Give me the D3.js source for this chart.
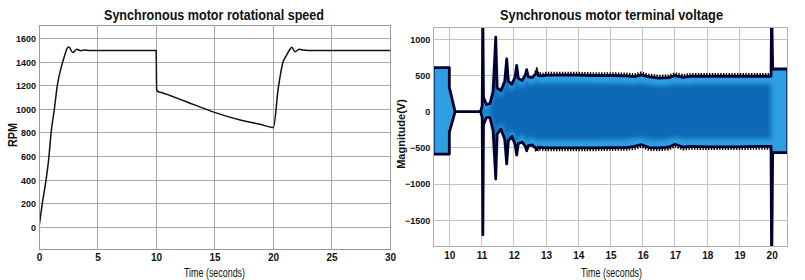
<!DOCTYPE html>
<html><head><meta charset="utf-8">
<script src="https://cdn.jsdelivr.net/npm/d3@7"></script>
<style>
html,body{margin:0;padding:0;background:#fff;}
svg{display:block;}
text{font-family:"Liberation Sans Narrow","Arial Narrow","Liberation Sans",Arial,sans-serif;fill:#111;}
</style></head><body>
<script>
// ---------- DATA ----------
// Left chart: synchronous motor rotational speed (RPM vs time)
const speedTime = [0,0.28,0.6,0.85,1.03,1.31,1.56,1.99,2.2,2.45,2.55,2.88,3.22,3.56,3.9,4.3,10.0,10.02,10.05,10.2,10.6,11.2,12.6,15.0,17.2,18.9,19.95,20.03,20.45,20.85,21.1,21.45,21.6,21.88,22.25,22.6,23.0,30.0];
const speedRPM  = [0,200,400,600,800,1000,1200,1390,1460,1525,1530,1482,1510,1498,1505,1500,1500,1500,1170,1150,1140,1118,1065,975,910,874,846,845,1180,1400,1450,1510,1527,1490,1510,1503,1500,1500];
const speedXTicks = [0,5,10,15,20,25,30];
const speedYTicks = [0,200,400,600,800,1000,1200,1400,1600];

// Right chart: synchronous motor terminal voltage (envelope of waveform)
const voltTime  = [9.5,10.0,10.0,10.18,10.97,11.02,11.04,11.06,11.15,11.26,11.36,11.44,11.48,11.6,11.72,11.78,11.83,11.94,12.04,12.09,12.14,12.26,12.36,12.40,12.45,12.57,12.67,12.71,12.76,12.9,13.0,13.5,14.0,14.5,15.0,15.5,15.75,15.95,16.2,16.5,16.8,17.0,17.25,17.5,18.0,18.5,19.0,19.5,19.98,19.995,20.005,20.03,20.5];
const voltUpper = [610,610,337,0,0,80,1300,200,100,110,280,1030,330,290,420,730,420,380,480,640,460,430,510,580,480,470,520,555,500,495,505,505,505,500,500,495,485,510,480,465,470,500,475,490,490,490,490,490,490,1300,1300,590,590];
const voltLower = [-585,-585,-285,0,0,-80,-1700,-180,-80,-80,-260,-930,-310,-240,-380,-720,-400,-340,-450,-600,-440,-420,-480,-540,-470,-460,-500,-520,-490,-495,-500,-500,-500,-500,-495,-495,-480,-455,-495,-500,-490,-450,-490,-480,-485,-485,-485,-480,-480,-1900,-1900,-565,-565];
const voltXTicks = [10,11,12,13,14,15,16,17,18,19,20];
const voltYTicks = [-1500,-1000,-500,0,500,1000];

const titles = ["Synchronous motor rotational speed","Synchronous motor terminal voltage"];
const xLabel = "Time (seconds)";
const yLabels = ["RPM","Magnitude(V)"];

// ---------- DRAW ----------
const W = 805, H = 280;
const svg = d3.select("body").append("svg").attr("width",W).attr("height",H);

const defs = svg.append("defs");
defs.append("filter").attr("id","soft").attr("x","-5%").attr("y","-20%").attr("width","110%").attr("height","140%")
  .append("feGaussianBlur").attr("stdDeviation",2.0);

function fitText(sel, width){
  sel.each(function(){
    const w = this.getComputedTextLength();
    if (w > width*1.02) { d3.select(this).attr("textLength",width).attr("lengthAdjust","spacingAndGlyphs"); }
  });
}

function panel(cfg){
  const g = svg.append("g");
  const x = d3.scaleLinear().domain(cfg.xDomain).range([cfg.left,cfg.right]);
  const y = d3.scaleLinear().domain(cfg.yDomain).range([cfg.bottom,cfg.top]);
  g.append("g").selectAll("line").data(cfg.xTicks).join("line")
    .attr("x1",d=>x(d)).attr("x2",d=>x(d)).attr("y1",cfg.top).attr("y2",cfg.bottom)
    .attr("stroke",cfg.gridColor).attr("stroke-width",1).attr("shape-rendering","crispEdges");
  g.append("g").selectAll("line").data(cfg.yTicks).join("line")
    .attr("y1",d=>y(d)).attr("y2",d=>y(d)).attr("x1",cfg.left).attr("x2",cfg.right)
    .attr("stroke",cfg.gridColor).attr("stroke-width",1).attr("shape-rendering","crispEdges");
  const tf = d3.format("d");
  const xa = g.append("g").attr("transform",`translate(0,${cfg.bottom})`)
    .call(d3.axisBottom(x).tickValues(cfg.xTicks).tickFormat(tf).tickSize(0).tickPadding(5));
  xa.select(".domain").remove();
  xa.selectAll("text").attr("font-size",10).attr("font-weight","bold")
    .attr("font-family","'Liberation Sans',Arial,sans-serif").attr("fill","#111");
  const ya = g.append("g").attr("transform",`translate(${cfg.left},0)`)
    .call(d3.axisLeft(y).tickValues(cfg.yTicks).tickFormat(tf).tickSize(0).tickPadding(3));
  ya.select(".domain").remove();
  ya.selectAll("text").attr("font-size",9).attr("font-weight","bold")
    .attr("font-family","'Liberation Sans',Arial,sans-serif").attr("fill","#111");
  const cid = "clip"+cfg.id;
  defs.append("clipPath").attr("id",cid).append("rect")
    .attr("x",cfg.left).attr("y",cfg.top).attr("width",cfg.right-cfg.left).attr("height",cfg.bottom-cfg.top);
  const plot = g.append("g").attr("clip-path",`url(#${cid})`);
  g.append("rect").attr("x",cfg.left).attr("y",cfg.top).attr("width",cfg.right-cfg.left).attr("height",cfg.bottom-cfg.top)
    .attr("fill","none").attr("stroke",cfg.frameColor).attr("stroke-width",1).attr("shape-rendering","crispEdges");
  g.append("text").attr("x",(cfg.left+cfg.right)/2+cfg.titleDx).attr("y",19.5).attr("text-anchor","middle")
    .attr("font-size",15.5).attr("font-weight","bold").text(cfg.title).call(fitText,cfg.titleW);
  g.append("text").attr("x",(cfg.left+cfg.right)/2+cfg.xlabDx).attr("y",276.5).attr("text-anchor","middle")
    .attr("font-size",12.8).text(xLabel).call(fitText,61);
  g.append("text").attr("transform",`translate(${cfg.ylabX},${cfg.ylabY}) rotate(-90)`).attr("text-anchor","middle")
    .attr("font-size",cfg.ylabSize).attr("font-weight","bold").text(cfg.ylab).call(fitText,cfg.ylabW);
  return {x,y,plot};
}

// Left panel
const L = panel({id:"L",left:39,right:390,top:25,bottom:249,xDomain:[0,30],yDomain:[-184,1716],
  xTicks:speedXTicks,yTicks:speedYTicks,gridColor:"#a9a9a9",frameColor:"#9a9a9a",
  title:titles[0],titleW:220,titleDx:-0.5,xlabDx:0,ylab:yLabels[0],ylabX:16.5,ylabY:135,ylabW:24,ylabSize:12});
const sp = speedTime.map((t,i)=>[t,speedRPM[i]]);
L.plot.append("path").datum(sp)
  .attr("d",d3.line().x(d=>L.x(d[0])).y(d=>L.y(d[1])).curve(d3.curveMonotoneX))
  .attr("fill","none").attr("stroke","#111").attr("stroke-width",1.5).attr("stroke-linejoin","round");

// Right panel
const R = panel({id:"R",left:433.2,right:787.8,top:27.3,bottom:246.7,xDomain:[9.5,20.5],yDomain:[-1865,1166],
  xTicks:voltXTicks,yTicks:voltYTicks,gridColor:"#c4c4c4",frameColor:"#b0b0b0",
  title:titles[1],titleW:223,titleDx:1,xlabDx:1,ylab:yLabels[1],ylabX:405,ylabY:134,ylabW:78,ylabSize:11});
const vd = voltTime.map((t,i)=>({t,u:voltUpper[i],l:voltLower[i]}));
const y0 = R.y(0);
const env = d3.area().x(d=>R.x(d.t)).y1(d=>R.y(d.u)).y0(d=>R.y(d.l));
R.plot.append("path").datum(vd).attr("d",env).attr("fill","#2d9fe0").attr("stroke","none");
const core = vd.filter(d=>d.t>=11.0 && d.t<=19.99 && d.u<1200);
R.plot.append("path").datum(core)
  .attr("d",d3.area().x(d=>R.x(d.t))
     .y1(d=>Math.min(R.y(d.u)+8,y0)).y0(d=>Math.max(R.y(d.l)-8,y0)).curve(d3.curveBasis))
  .attr("fill","#0868b6").attr("filter","url(#soft)");
R.plot.append("path").datum(vd).attr("d",env)
  .attr("fill","none").attr("stroke","#000030").attr("stroke-width",2.8).attr("stroke-linejoin","round");
const rip = vd.filter(d=>d.t>=12.6 && d.t<=19.98);
R.plot.append("path").datum(rip)
  .attr("d",d3.line().x(d=>R.x(d.t)).y(d=>R.y(d.u)-2))
  .attr("fill","none").attr("stroke","#000").attr("stroke-width",2.6).attr("stroke-dasharray","1.4,1.4");
R.plot.append("path").datum(rip)
  .attr("d",d3.line().x(d=>R.x(d.t)).y(d=>R.y(d.l)+2))
  .attr("fill","none").attr("stroke","#000").attr("stroke-width",2.6).attr("stroke-dasharray","1.4,1.4");
</script>
</body></html>
